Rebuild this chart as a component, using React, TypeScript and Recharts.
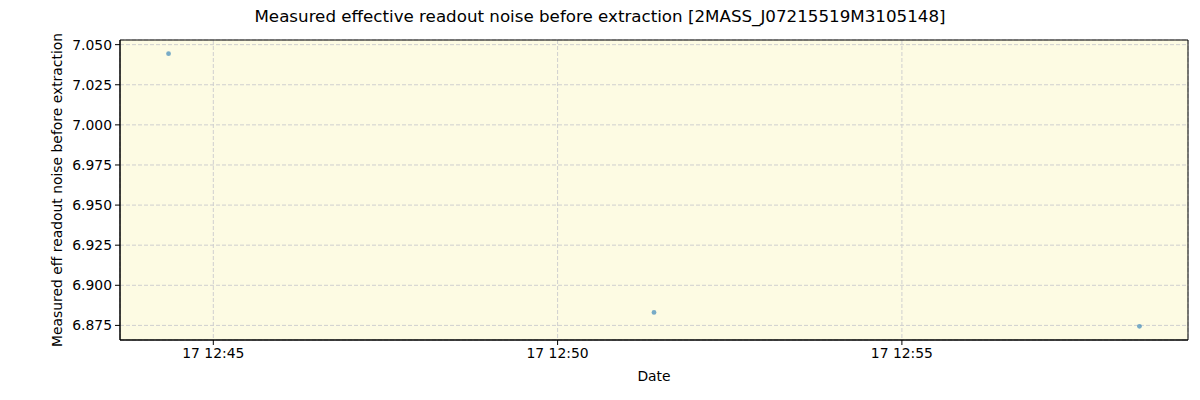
import React from "react";
import { ScatterChart, Scatter, XAxis, YAxis, CartesianGrid, ReferenceArea } from "recharts";

// observation times (HH:MM:SS on day 17) and measured values
const times: string[] = ["12:44:21", "12:51:24", "12:58:27"];
const noiseValues: number[] = [7.0444, 6.8831, 6.8744];
const xTickLabels: string[] = ["12:45", "12:50", "12:55"];
const yTicks: number[] = [6.875, 6.9, 6.925, 6.95, 6.975, 7.0, 7.025, 7.05];

const toSec = (s: string) => {
  const [h, m, sec] = s.split(":").map(Number);
  return (h - 12) * 3600 + m * 60 + (sec || 0);
};

const data = times.map((t, i) => ({ x: toSec(t), y: noiseValues[i] }));
const xs = data.map((d) => d.x);
const ys = data.map((d) => d.y);
const xMin = Math.min(...xs), xMax = Math.max(...xs);
const yMin = Math.min(...ys), yMax = Math.max(...ys);
const xPad = (xMax - xMin) * 0.05;
const yPad = (yMax - yMin) * 0.05;
const xDomain = [xMin - xPad, xMax + xPad];
const yDomain = [yMin - yPad, yMax + yPad];
const xTicks = xTickLabels.map((t) => toSec(t + ":00"));

const fmtX = (v: number) => {
  const m = Math.round(v / 60);
  const hh = 12 + Math.floor(m / 60);
  const mm = m % 60;
  return `17 ${hh}:${String(mm).padStart(2, "0")}`;
};

const FONT = "DejaVu Sans, sans-serif";

const Dot = (props: any) => (
  <circle cx={props.cx} cy={props.cy} r={2.4} fill="#1f77b4" fillOpacity={0.6} />
);

export default function App() {
  return (
    <div style={{ position: "absolute", left: 0, top: 0, width: 1200, height: 400, background: "#fff", fontFamily: FONT }}>
      <div
        style={{
          position: "absolute",
          top: 5,
          left: 0,
          width: 1200,
          textAlign: "center",
          fontSize: 16.7,
          lineHeight: "22px",
          color: "#000",
        }}
      >
        Measured effective readout noise before extraction [2MASS_J07215519M3105148]
      </div>
      <ScatterChart width={1200} height={400} margin={{ top: 40, right: 12, bottom: 0, left: 0 }}>
        <CartesianGrid stroke="#cfcfcf" strokeDasharray="4 2" fill="#fdfbe3" fillOpacity={1} />
        <XAxis
          type="number"
          dataKey="x"
          domain={xDomain}
          ticks={xTicks}
          tickFormatter={fmtX}
          height={60}
          allowDataOverflow
          stroke="#000"
          tickSize={5}
          tickMargin={3}
          tick={{ fill: "#000", fontSize: 13.9, fontFamily: FONT }}
          label={{ value: "Date", position: "center", dy: 6, fill: "#000", fontSize: 13.9, fontFamily: FONT }}
        />
        <YAxis
          type="number"
          dataKey="y"
          domain={yDomain}
          ticks={yTicks}
          tickFormatter={(v: number) => v.toFixed(3)}
          width={120}
          allowDataOverflow
          stroke="#000"
          tickSize={5}
          tickMargin={3}
          tick={{ fill: "#000", fontSize: 13.9, fontFamily: FONT }}
          label={{
            value: "Measured eff readout noise before extraction",
            angle: -90,
            position: "center",
            dx: -3,
            fill: "#000",
            fontSize: 13.9,
            fontFamily: FONT,
          }}
        />
        <ReferenceArea
          x1={xDomain[0]}
          x2={xDomain[1]}
          y1={yDomain[0]}
          y2={yDomain[1]}
          fill="none"
          fillOpacity={0}
          stroke="#000"
          strokeWidth={1}
          ifOverflow="visible"
        />
        <Scatter data={data} shape={Dot} isAnimationActive={false} />
      </ScatterChart>
    </div>
  );
}
